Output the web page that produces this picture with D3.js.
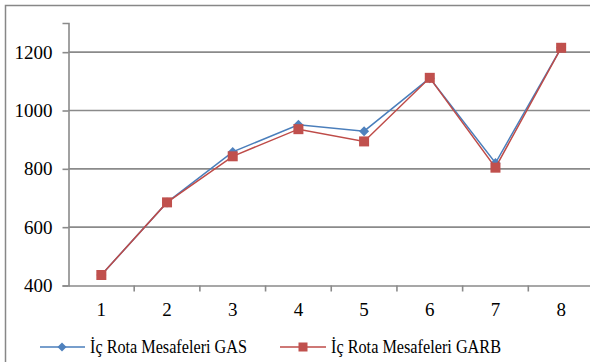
<!DOCTYPE html>
<html>
<head>
<meta charset="utf-8">
<script src="https://cdn.jsdelivr.net/npm/d3@7"></script>
<style>
  html, body { margin: 0; padding: 0; background: #fff; }
  svg { display: block; }
</style>
</head>
<body>
<svg id="chart" width="590" height="362"></svg>
<script>
// Route distances per category
const categories = [1, 2, 3, 4, 5, 6, 7, 8];
const gasValues  = [436, 685, 858, 951, 929, 1111, 820, 1215];
const garbValues = [436, 685, 843, 936, 894, 1112, 804, 1215];
const yTicks = [400, 600, 800, 1000, 1200];
const seriesNames = ["İç Rota Mesafeleri GAS", "İç Rota Mesafeleri GARB"];

const FONT = "'Liberation Serif', 'DejaVu Serif', serif";
const svg = d3.select("#chart");

// outer chart frame
svg.append("rect")
  .attr("x", 5.5).attr("y", 5.5)
  .attr("width", 620).attr("height", 400)
  .attr("fill", "#fff").attr("stroke", "#878787").attr("stroke-width", 1.5);

const plotLeft = 68.5, plotRight = 594, plotTop = 23, plotBottom = 285.5;

const x = d3.scaleBand().domain(categories).range([plotLeft, plotRight]).padding(0);
const y = d3.scaleLinear().domain([400, 1300]).range([plotBottom, plotTop]);

const gridColor = "#8a8a8a";

// horizontal gridlines
svg.append("g").selectAll("line")
  .data(yTicks.filter(v => v > 400))
  .join("line")
  .attr("x1", plotLeft).attr("x2", plotRight)
  .attr("y1", d => y(d)).attr("y2", d => y(d))
  .attr("stroke", gridColor).attr("stroke-width", 1.6);

// y axis
const yAxis = d3.axisLeft(y).tickValues(yTicks).tickSize(6).tickPadding(10).tickFormat(d3.format("d"));
const gy = svg.append("g").attr("transform", `translate(${plotLeft},0)`).call(yAxis)
  .attr("font-family", FONT).attr("font-size", 19);
gy.select(".domain").attr("stroke", gridColor).attr("stroke-width", 1.6);
gy.selectAll(".tick line").attr("stroke", gridColor).attr("stroke-width", 1.6);
gy.selectAll(".tick text").attr("fill", "#000");

// x axis
const xAxis = d3.axisBottom(x).tickSize(0).tickPadding(17);
const gx = svg.append("g").attr("transform", `translate(0,${plotBottom})`).call(xAxis)
  .attr("font-family", FONT).attr("font-size", 19);
gx.select(".domain").attr("stroke", gridColor).attr("stroke-width", 1.6);
gx.selectAll(".tick text").attr("fill", "#000");
// tick marks at category boundaries
gx.append("g").selectAll("line")
  .data(categories.slice(1))
  .join("line")
  .attr("x1", d => x(d)).attr("x2", d => x(d))
  .attr("y1", 0).attr("y2", 6)
  .attr("stroke", gridColor).attr("stroke-width", 1.6);

const cx = d => x(d) + x.bandwidth() / 2;
const line = d3.line().x((d, i) => cx(categories[i])).y(d => y(d));

const blueLine = "#4a7ebb", blueMark = "#4f81bd";
const redLine = "#be4b48", redMark = "#c0504d";

function diamond(g, px, py, s) {
  g.append("path")
    .attr("d", `M${px},${py - s}L${px + s},${py}L${px},${py + s}L${px - s},${py}Z`)
    .attr("fill", blueMark);
}
function square(g, px, py, s) {
  g.append("rect")
    .attr("x", px - s).attr("y", py - s).attr("width", 2 * s).attr("height", 2 * s)
    .attr("fill", redMark);
}

// GAS series
svg.append("path").datum(gasValues).attr("d", line)
  .attr("fill", "none").attr("stroke", blueLine).attr("stroke-width", 1.5);
const gasMarks = svg.append("g");
gasValues.forEach((v, i) => diamond(gasMarks, cx(categories[i]), y(v), 5));

// GARB series
svg.append("path").datum(garbValues).attr("d", line)
  .attr("fill", "none").attr("stroke", redLine).attr("stroke-width", 1.5);
const garbMarks = svg.append("g");
garbValues.forEach((v, i) => square(garbMarks, cx(categories[i]), y(v), 5));

// legend
const ly = 347;
const lg = svg.append("g").attr("font-family", FONT).attr("font-size", 18);
lg.append("line").attr("x1", 40).attr("x2", 85).attr("y1", ly).attr("y2", ly)
  .attr("stroke", blueLine).attr("stroke-width", 1.5);
diamond(lg, 62, ly, 4.5);
lg.append("text").attr("x", 90).attr("y", ly + 6)
  .attr("textLength", 157).attr("lengthAdjust", "spacingAndGlyphs")
  .text(seriesNames[0]);

lg.append("line").attr("x1", 280).attr("x2", 326).attr("y1", ly).attr("y2", ly)
  .attr("stroke", redLine).attr("stroke-width", 1.5);
square(lg, 303, ly, 4.5);
lg.append("text").attr("x", 331).attr("y", ly + 6)
  .attr("textLength", 170).attr("lengthAdjust", "spacingAndGlyphs")
  .text(seriesNames[1]);
</script>
</body>
</html>
